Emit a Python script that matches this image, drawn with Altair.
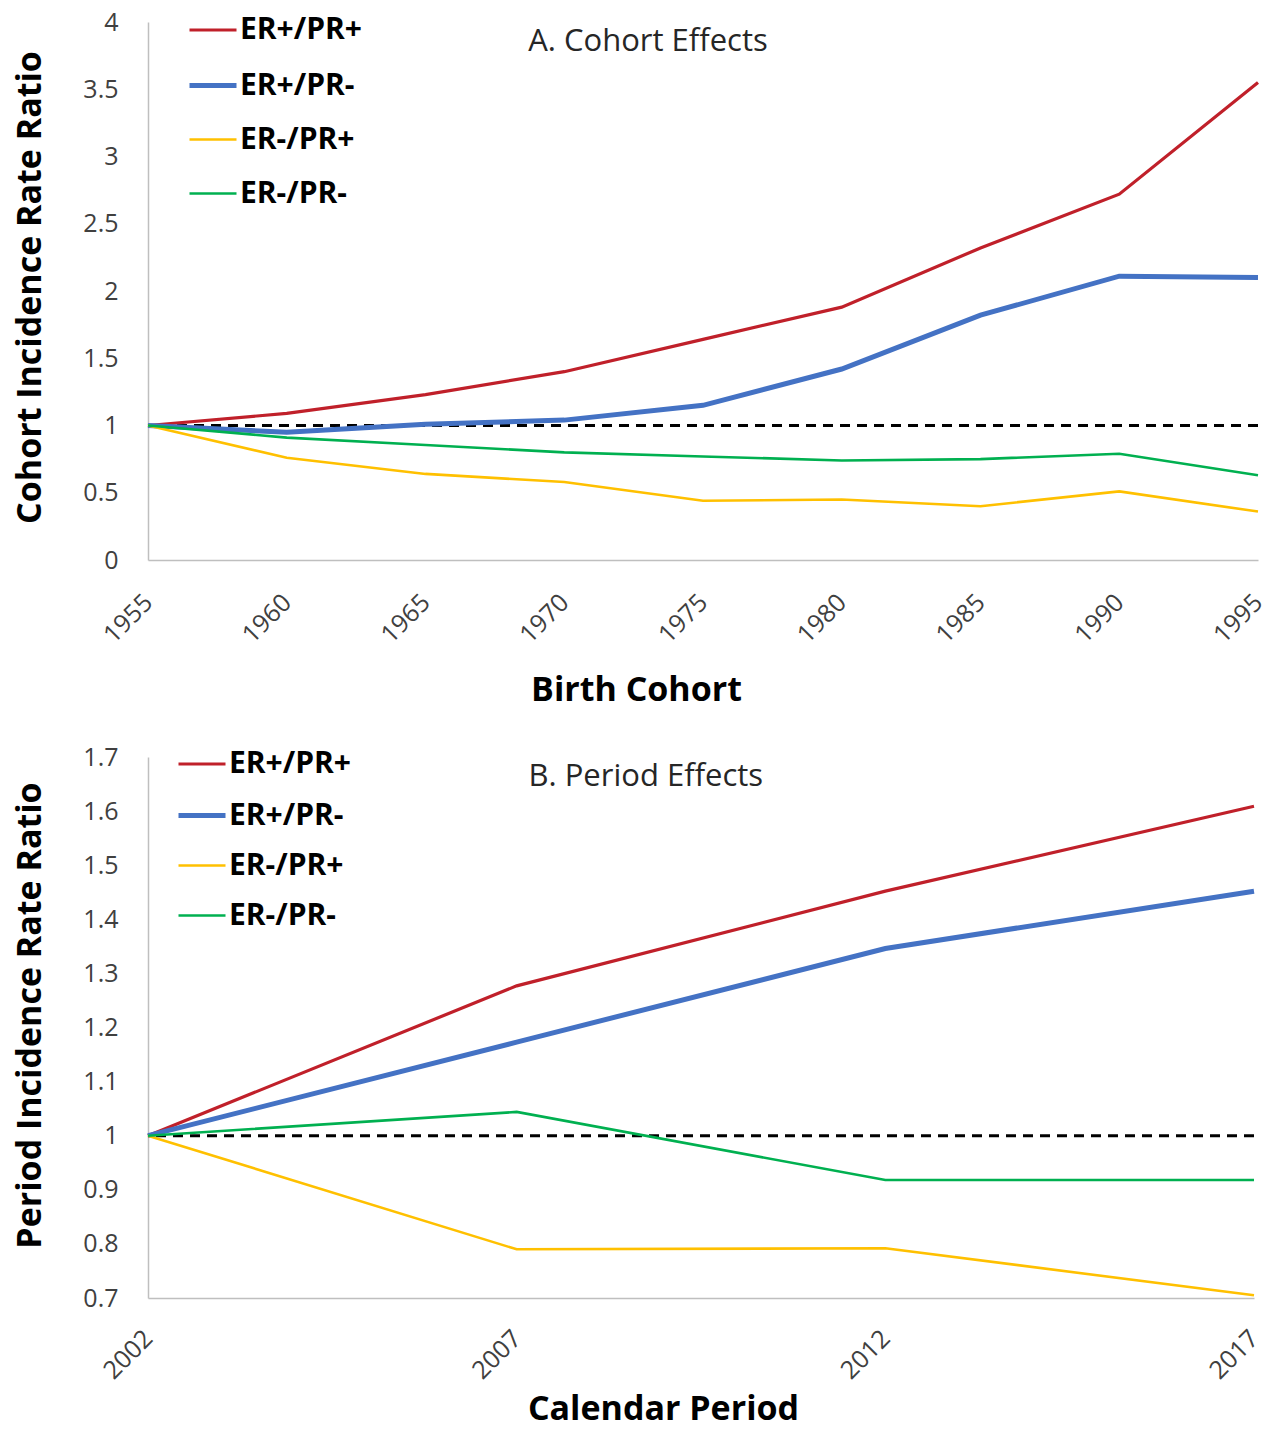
import altair as alt
import pandas as pd

series = ["ER+/PR+", "ER+/PR-", "ER-/PR+", "ER-/PR-"]
colors = ["#C0202A", "#4472C4", "#FFC000", "#00B050"]
widths = [3.2, 5, 2.6, 2.6]

cohort_years = [1955, 1960, 1965, 1970, 1975, 1980, 1985, 1990, 1995]
cohort_pp = [1.0, 1.09, 1.23, 1.40, 1.64, 1.88, 2.32, 2.72, 3.55]
cohort_pn = [1.0, 0.95, 1.01, 1.04, 1.15, 1.42, 1.82, 2.11, 2.10]
cohort_np = [1.0, 0.76, 0.64, 0.58, 0.44, 0.45, 0.40, 0.51, 0.36]
cohort_nn = [1.0, 0.91, 0.855, 0.80, 0.77, 0.74, 0.75, 0.79, 0.63]

period_years = [2002, 2007, 2012, 2017]
period_pp = [1.0, 1.277, 1.452, 1.609]
period_pn = [1.0, 1.173, 1.346, 1.452]
period_np = [1.0, 0.79, 0.792, 0.705]
period_nn = [1.0, 1.044, 0.918, 0.918]

cohort_ticks = [1955, 1960, 1965, 1970, 1975, 1980, 1985, 1990, 1995]
cohort_yticks = [0, 0.5, 1, 1.5, 2, 2.5, 3, 3.5, 4]
period_ticks = [2002, 2007, 2012, 2017]
period_yticks = [0.7, 0.8, 0.9, 1.0, 1.1, 1.2, 1.3, 1.4, 1.5, 1.6, 1.7]

panel_titles = ["A. Cohort Effects", "B. Period Effects"]
title_pos_x = [1968.7, 2007.16]
title_pos_y = [3.85, 1.663]

FONT = "Open Sans"


def long_df(years, lists):
    rows = []
    for s, vals in zip(series, lists):
        for yr, v in zip(years, vals):
            rows.append({"year": yr, "value": v, "series": s})
    return pd.DataFrame(rows)


def panel(df, xdom, ydom, xticks, yticks, xtitle, ytitle, w, h,
          legx, legy, rowpad, xtx, xty, ytx, yty, lpad, ann_text, ann_x, ann_y):
    legend = alt.Legend(
        title=None, orient="none", legendX=legx, legendY=legy,
        symbolType="stroke", symbolSize=2209, labelFont=FONT,
        labelFontSize=30, labelFontWeight="bold", labelColor="black",
        labelOffset=1, rowPadding=rowpad, padding=0,
    )
    xenc = alt.X("year:Q", scale=alt.Scale(domain=xdom, nice=False, zero=False),
                 axis=alt.Axis(values=xticks, format="d", title=xtitle,
                               labelAngle=-45, labelAlign="right",
                               labelBaseline="middle", labelPadding=lpad,
                               labelFlush=False, titleX=xtx, titleY=xty,
                               titleBaseline="middle", titleAnchor="start",
                               titleAlign="center"))
    yenc = alt.Y("value:Q", scale=alt.Scale(domain=ydom, nice=False, zero=False),
                 axis=alt.Axis(values=yticks, format=".1~f", title=ytitle,
                               labelPadding=30, titleX=ytx, titleY=yty,
                               titleBaseline="middle", titleAlign="center"))
    lines = alt.Chart(df).mark_line(clip=False).encode(
        x=xenc, y=yenc,
        color=alt.Color("series:N", sort=series,
                        scale=alt.Scale(domain=series, range=colors), legend=legend),
        strokeWidth=alt.StrokeWidth("series:N", sort=series,
                                    scale=alt.Scale(type="ordinal", domain=series, range=widths),
                                    legend=legend),
        order=alt.Order("year:Q"),
    )
    ref = alt.Chart(pd.DataFrame({"v": [1.0]})).mark_rule(
        color="black", strokeWidth=3, strokeDash=[10, 7]
    ).encode(y="v:Q")
    ann = alt.Chart(pd.DataFrame({"x": [ann_x], "y": [ann_y], "t": [ann_text]})).mark_text(
        align="left", baseline="middle", font=FONT, fontSize=31, color="#262626"
    ).encode(x="x:Q", y="y:Q", text="t:N")
    return alt.layer(ref, lines, ann).properties(width=w, height=h)


dfA = long_df(cohort_years, [cohort_pp, cohort_pn, cohort_np, cohort_nn])
dfB = long_df(period_years, [period_pp, period_pn, period_np, period_nn])

top = panel(dfA, [1955, 1995], [0, 4], cohort_ticks, cohort_yticks,
            "Birth Cohort", "Cohort Incidence Rate Ratio", 1110, 538,
            39, -17.5, 14, 488, 130, -118, 265, 38,
            panel_titles[0], title_pos_x[0], title_pos_y[0])
bottom = panel(dfB, [2002, 2017], [0.7, 1.7], period_ticks, period_yticks,
               "Calendar Period", "Period Incidence Rate Ratio", 1106, 541,
               28, -18.5, 10, 515, 111, -118, 258, 36,
               panel_titles[1], title_pos_x[1], title_pos_y[1])

chart = alt.vconcat(top, bottom, spacing=31).resolve_scale(
    color="independent", strokeWidth="independent"
).configure_view(stroke=None).configure_axis(
    grid=False, ticks=False, domainColor="#BFBFBF", domainWidth=1.5,
    labelFont=FONT, labelFontSize=25, labelColor="#404040",
    titleFont=FONT, titleFontSize=34, titleFontWeight="bold", titleColor="black",
).properties(padding={"left": 4, "top": -4, "right": -4, "bottom": -6})

chart.save("out.html", embed_options={"renderer": "svg", "actions": False})
